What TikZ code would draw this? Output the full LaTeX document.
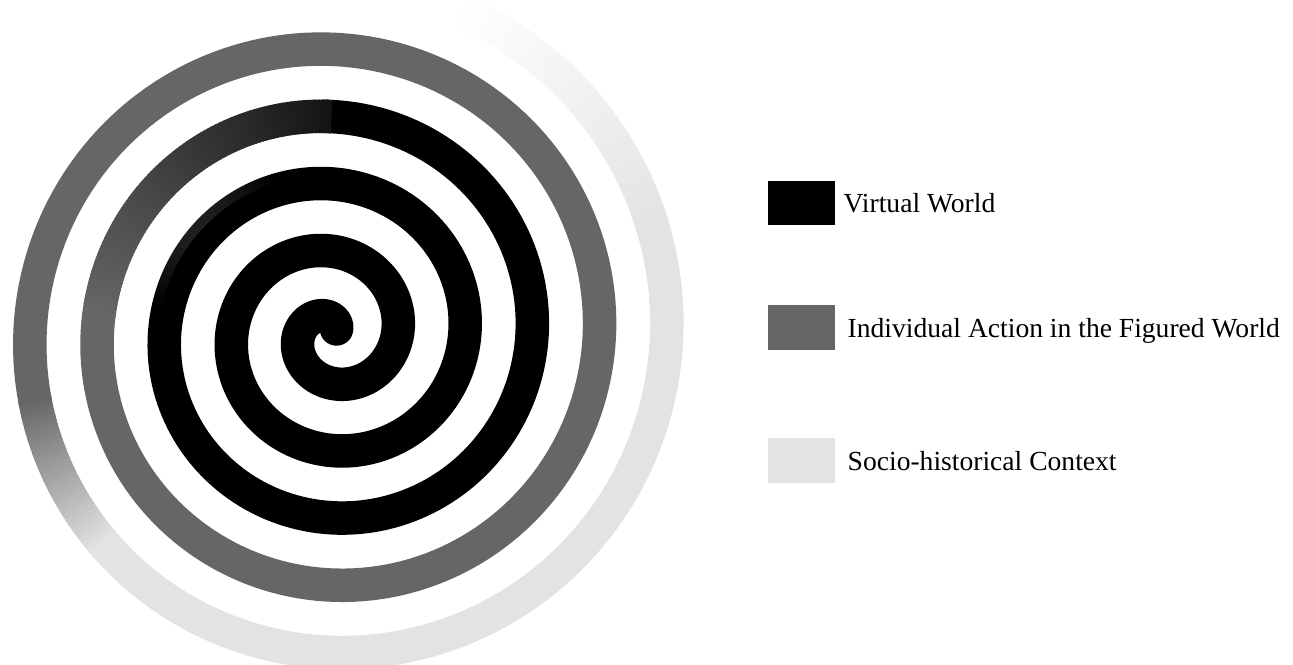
\documentclass[tikz,border=0pt]{standalone}
\usepackage{fontspec}
\setmainfont{Liberation Serif}
\usetikzlibrary{positioning}
\definecolor{virtualblack}{HTML}{000000}
\definecolor{actiongray}{HTML}{666666}
\definecolor{contextgray}{HTML}{E3E3E3}
\tikzset{
    band/.style={line width=0.67cm, line cap=butt},
    keybox/.style={rectangle, minimum width=1.34cm, minimum height=0.9cm, inner sep=0pt},
    keylabel/.style={inner sep=0pt, text height=11pt, text depth=0pt, font=\fontsize{15.7}{18}\selectfont},
    % archimedean spiral, angle in degrees
    declare function={sprr(\t)=66+0.18694*\t; sprx(\t)=331.5+sprr(\t)*cos(\t); spry(\t)=334-sprr(\t)*sin(\t);}
}

\begin{document}
\begin{tikzpicture}[x=0.02cm, y=-0.02cm]
    \useasboundingbox (0,0) rectangle (1293,665);
    \fill[white] (0,0) rectangle (1293,665);
    \begin{scope}
        \clip (0,0) rectangle (700,665);
        % spiral: black core
        \draw[band, draw=virtualblack, line cap=round, domain=-315:812, samples=565] plot ({sprx(\x)},{spry(\x)});
        % soft gray streak on the outer edge of the third turn
        \foreach \a in {470,472,...,528} {
            \pgfmathsetmacro\op{0.3*sin((\a-470)/60*180)}
            \draw[line width=0.2cm, draw=actiongray, opacity=\op, domain=\a:\a+2, samples=3]
                plot ({331.5+(sprr(\x)+12)*cos(\x)},{334-(sprr(\x)+12)*sin(\x)});
        }
        % black fading into gray
        \foreach \a in {810,811,...,894} {
            \pgfmathsetmacro\mix{20+80*(\a-810)/84}
            \draw[band, draw=actiongray!\mix!virtualblack, domain=\a:\a+1.4, samples=2] plot ({sprx(\x)},{spry(\x)});
        }
        \draw[band, draw=actiongray, domain=895:1273, samples=190] plot ({sprx(\x)},{spry(\x)});
        % gray fading into light gray
        \foreach \a in {1272,1273,...,1302} {
            \pgfmathsetmacro\mix{100*(\a-1272)/30}
            \draw[band, draw=contextgray!\mix!actiongray, domain=\a:\a+1.4, samples=2] plot ({sprx(\x)},{spry(\x)});
        }
        \draw[band, draw=contextgray, domain=1303:1459, samples=79] plot ({sprx(\x)},{spry(\x)});
        % outer end fades out
        \foreach \a in {1458,1459,...,1508} {
            \pgfmathsetmacro\mix{100*(\a-1458)/50}
            \draw[band, draw=white!\mix!contextgray, domain=\a:\a+1.4, samples=2] plot ({sprx(\x)},{spry(\x)});
        }
    \end{scope}

    % key
    \node[keybox, fill=virtualblack] (vwbox) at (801.5,203) {};
    \node[keybox, fill=actiongray, below=1.58cm of vwbox] (iabox) {};
    \node[keybox, fill=contextgray, below=1.75cm of iabox] (shbox) {};
    \node[keylabel, right=0.16cm of vwbox] (vwtext) {Virtual World};
    \node[keylabel, right=0.24cm of iabox] (iatext) {Individual Action in the Figured World};
    \node[keylabel, right=0.24cm of shbox] (shtext) {Socio-historical Context};
\end{tikzpicture}
\end{document}
